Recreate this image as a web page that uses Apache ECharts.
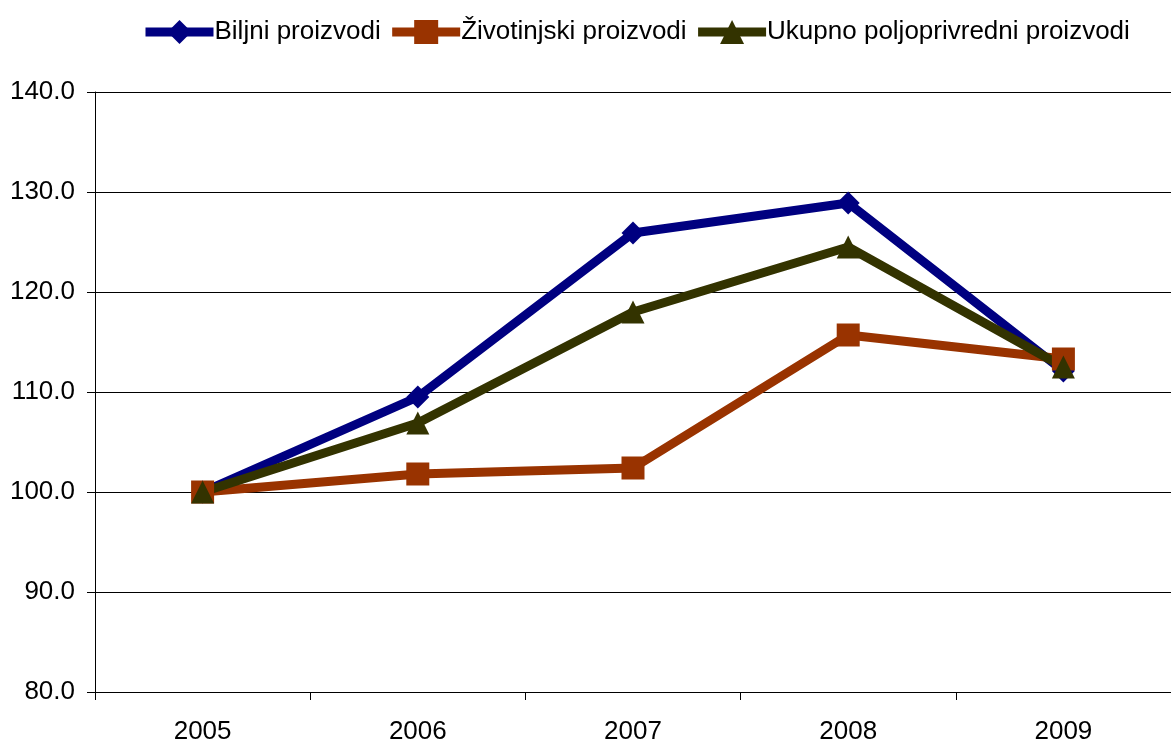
<!DOCTYPE html>
<html>
<head>
<meta charset="utf-8">
<script src="https://cdn.jsdelivr.net/npm/echarts@6/dist/echarts.min.js"></script>
<style>
  html, body { margin: 0; padding: 0; background: #fff; }
  #chart { width: 1171px; height: 745px; }
</style>
</head>
<body>
<div id="chart"></div>
<script>
const godine = ['2005', '2006', '2007', '2008', '2009']
const biljni = [100.0, 109.5, 125.9, 128.9, 112.1]
const zivotinjski = [100.0, 101.8, 102.4, 115.7, 113.3]
const ukupno = [100.0, 106.9, 118.0, 124.5, 112.5]

const font = 'Liberation Sans, Arial, sans-serif'

function serija(naziv, podaci, boja, simbol, velicina) {
    return {
        name: naziv,
        type: 'line',
        data: podaci,
        symbol: simbol,
        symbolSize: velicina,
        showAllSymbol: true,
        lineStyle: { color: boja, width: 9, join: 'round' },
        itemStyle: { color: boja },
        emphasis: { disabled: true }
    }
}

const myChart = echarts.init(document.getElementById('chart'))
myChart.setOption({
    animation: false,
    textStyle: { fontFamily: font },
    legend: {
        top: 14,
        left: 136,
        itemWidth: 68,
        itemHeight: 30,
        itemGap: 7,
        lineStyle: { width: 9 },
        textStyle: { fontSize: 26, color: '#000', fontFamily: font, padding: [0, 0, 0, -4] },
        data: ['Biljni proizvodi', 'Životinjski proizvodi', 'Ukupno poljoprivredni proizvodi']
    },
    grid: { left: 95, right: 0, top: 92, bottom: 51 },
    xAxis: {
        type: 'category',
        data: godine,
        boundaryGap: true,
        axisLine: { lineStyle: { color: '#000', width: 1 } },
        axisTick: { show: true, length: 8, inside: false, lineStyle: { color: '#000' } },
        axisLabel: { fontSize: 26, color: '#000', margin: 27, fontFamily: font }
    },
    yAxis: {
        type: 'value',
        min: 80,
        max: 140,
        interval: 10,
        axisLine: { show: true, lineStyle: { color: '#000', width: 1 } },
        axisTick: { show: true, length: 8, lineStyle: { color: '#000' } },
        axisLabel: { fontSize: 26, color: '#000', margin: 20, fontFamily: font, formatter: (v) => v.toFixed(1) },
        splitLine: { show: true, lineStyle: { color: '#000', width: 1 } }
    },
    series: [
        serija('Biljni proizvodi', biljni, '#000080', 'diamond', 23),
        serija('Životinjski proizvodi', zivotinjski, '#993300', 'rect', 23),
        serija('Ukupno poljoprivredni proizvodi', ukupno, '#333300', 'triangle', 23)
    ]
})
</script>
</body>
</html>
